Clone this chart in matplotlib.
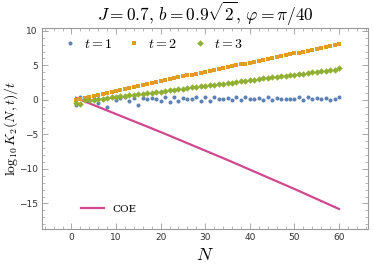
import numpy as np
import matplotlib
matplotlib.use("Agg")
import matplotlib.pyplot as plt
from matplotlib.lines import Line2D
from matplotlib.ticker import MultipleLocator

plt.rcParams['mathtext.fontset'] = 'cm'

N = list(range(1, 61))

t1 = [-0.75, 0.45, 0.0, -0.15, 0.1, -0.5, 0.1, -1.05, 0.45, -0.05,
      0.3, 0.4, -0.2, 0.3, -0.7, 0.25, 0.1, 0.25, 0.2, -0.15,
      0.4, -0.35, 0.43, -0.1, 0.29, 0.2, 0.1, 0.39, -0.1, 0.39,
      -0.12, 0.4, 0.18, 0.18, 0.29, -0.05, 0.35, 0.0, 0.39, 0.15,
      0.15, 0.29, -0.05, 0.39, 0.0, 0.34, 0.2, 0.2, 0.2, 0.1,
      0.43, 0.05, 0.43, 0.2, 0.24, 0.2, 0.29, 0.05, 0.2, 0.43]

t2 = [0.05, 0.1, 0.3, 0.45, 0.6, 0.75, 0.9, 1.05, 1.15, 1.3,
      1.45, 1.6, 1.75, 1.85, 2.0, 2.15, 2.3, 2.45, 2.55, 2.7,
      2.85, 3.0, 3.1, 3.25, 3.4, 3.55, 3.65, 3.8, 3.95, 4.05,
      4.2, 4.35, 4.45, 4.6, 4.75, 4.85, 5.0, 5.15, 5.25, 5.4,
      5.55, 5.65, 5.8, 5.95, 6.05, 6.2, 6.35, 6.45, 6.6, 6.75,
      6.85, 7.0, 7.15, 7.25, 7.4, 7.5, 7.65, 7.8, 7.9, 8.05]

t3 = [-0.5, -0.6, -0.05, 0.0, 0.05, 0.1, 0.2, 0.25, 0.35, 0.4,
      0.5, 0.55, 0.65, 0.75, 0.8, 0.9, 1.0, 1.05, 1.15, 1.2,
      1.3, 1.4, 1.45, 1.55, 1.65, 1.7, 1.8, 1.85, 1.95, 2.05,
      2.1, 2.2, 2.3, 2.35, 2.45, 2.5, 2.6, 2.7, 2.75, 2.85,
      2.95, 3.0, 3.1, 3.15, 3.25, 3.35, 3.4, 3.5, 3.6, 3.65,
      3.75, 3.8, 3.9, 4.0, 4.05, 4.15, 4.25, 4.3, 4.4, 4.55]

coe_N = [1, 5, 10, 15, 20, 25, 30, 35, 40, 45, 50, 55, 60]
coe = [0.3, -0.75, -2.05, -3.35, -4.65, -6.0, -7.35, -8.7, -10.1, -11.5, -12.9, -14.35, -15.8]

c_blue = '#5E81B5'
c_orange = '#E19C24'
c_green = '#8FB032'
c_coe = '#D0488F'
gray = '#9a9a9a'

fig = plt.figure(figsize=(3.74, 2.65), dpi=100)
ax = fig.add_axes([0.1123, 0.1358, 0.8717, 0.7582])

ax.plot(coe_N, coe, color=c_coe, lw=1.6, zorder=2)
ax.plot(N, t1, 'o', color=c_blue, ms=2.9, mew=0, zorder=3)
ax.plot(N, t2, 's', color=c_orange, ms=3.4, mew=0, zorder=3)
ax.plot(N, t3, 'D', color=c_green, ms=3.3, mew=0, zorder=3)

ax.set_xlim(-6.6, 66.5)
ax.set_ylim(-18.7, 10.4)
ax.xaxis.set_major_locator(MultipleLocator(10))
ax.xaxis.set_minor_locator(MultipleLocator(2))
ax.yaxis.set_major_locator(MultipleLocator(5))
ax.yaxis.set_minor_locator(MultipleLocator(1))
ax.tick_params(which='both', direction='in', top=True, right=True,
               color=gray, labelsize=6.5, labelcolor='#333333', pad=3)
ax.tick_params(which='major', length=4, width=0.6)
ax.tick_params(which='minor', length=2, width=0.5)
for s in ax.spines.values():
    s.set_color(gray)
    s.set_linewidth(0.8)

ax.set_title(r'$J = 0.7,\, b = 0.9\sqrt{2},\, \varphi = \pi/40$', fontsize=12.5, pad=4)
ax.set_xlabel(r'$N$', fontsize=13, labelpad=3)
ax.set_ylabel(r'$\log_{10} K_2(N,t)/t$', fontsize=10)
ax.yaxis.set_label_coords(-0.066, 0.5)

h1 = [Line2D([], [], ls='', marker='o', color=c_blue, ms=2.9, mew=0),
      Line2D([], [], ls='', marker='s', color=c_orange, ms=3.4, mew=0),
      Line2D([], [], ls='', marker='D', color=c_green, ms=3.3, mew=0)]
leg1 = ax.legend(h1, [r'$t = 1$', r'$t = 2$', r'$t = 3$'], loc='upper left',
                 bbox_to_anchor=(0.03, 1.02), ncol=3, frameon=False,
                 fontsize=10, handlelength=0.8, handletextpad=0.6, columnspacing=1.2)
ax.add_artist(leg1)
h2 = [Line2D([], [], color=c_coe, lw=1.6)]
leg2 = ax.legend(h2, ['COE'], loc='lower left', bbox_to_anchor=(0.09, 0.03),
                 frameon=False, prop={'family': 'DejaVu Serif', 'size': 7.5},
                 handlelength=2.2, handletextpad=0.8)

fig.savefig('out.png', dpi=100)
